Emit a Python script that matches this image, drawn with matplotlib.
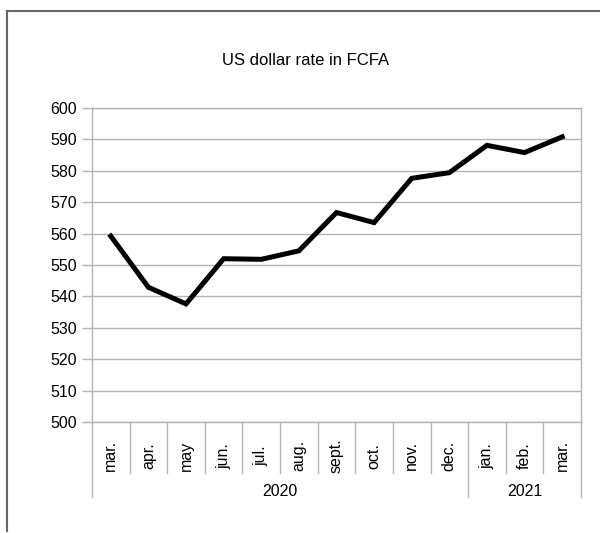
import matplotlib
matplotlib.use("Agg")
import matplotlib.pyplot as plt
from matplotlib.lines import Line2D
import matplotlib.transforms as mtransforms

# -------------------------
# data
# -------------------------
months = ["mar.", "apr.", "may", "jun.", "jul.", "aug.", "sept.",
          "oct.", "nov.", "dec.", "jan.", "feb.", "mar."]
years = ["2020", "2021"]
months_per_year = [10, 3]
rate = [559.2, 542.9, 537.6, 552.0, 551.8, 554.5, 566.7,
        563.5, 577.6, 579.4, 588.1, 585.8, 590.8]
y_ticks = list(range(500, 601, 10))

plt.rcParams["font.family"] = ["Liberation Sans", "DejaVu Sans"]
GRID = "#b3b3b3"

fig = plt.figure(figsize=(6, 5.33), dpi=100)
ax = fig.add_axes([0.1533, 0.2083, 0.815, 0.5891])

x = list(range(len(months)))
ax.plot(x, rate, color="black", lw=3.6, solid_joinstyle="miter", zorder=3)

ax.set_xlim(-0.5, len(months) - 0.5)
ax.set_ylim(y_ticks[0], y_ticks[-1])
ax.set_yticks(y_ticks)
ax.yaxis.grid(True, color=GRID, lw=1)
ax.set_axisbelow(True)
ax.tick_params(axis="y", length=7, width=1, color=GRID, labelsize=11.5,
               pad=4, labelcolor="black")
ax.set_xticks([])
for s in ax.spines.values():
    s.set_color(GRID)
    s.set_linewidth(1)

# two-level category axis
trans = mtransforms.blended_transform_factory(ax.transData, ax.transAxes)
for i, m in enumerate(months):
    ax.text(i, -0.108, m, rotation=90, ha="center", va="center",
            fontsize=11.5, transform=trans)

year_edges = [0]
for n in months_per_year:
    year_edges.append(year_edges[-1] + n)

for b in range(len(months) + 1):
    bottom = -0.239 if b in year_edges else -0.162
    ax.add_line(Line2D([b - 0.5, b - 0.5], [0, bottom], color=GRID, lw=1,
                       transform=trans, clip_on=False))

for yr, start, n in zip(years, year_edges[:-1], months_per_year):
    ax.text(start - 0.5 + n / 2, -0.223, yr, ha="center", va="center",
            fontsize=11.5, transform=trans)

fig.text(0.51, 0.887, "US dollar rate in FCFA", ha="center", va="center",
         fontsize=12)

# outer frame
fig.add_artist(Line2D([7 / 600, 7 / 600], [1 - 11 / 533, 1 - 531 / 533],
                      transform=fig.transFigure, color="#666666", lw=1.5))
fig.add_artist(Line2D([7 / 600, 1], [1 - 11 / 533, 1 - 11 / 533],
                      transform=fig.transFigure, color="#666666", lw=1.5))

fig.savefig("out.png", dpi=100)
